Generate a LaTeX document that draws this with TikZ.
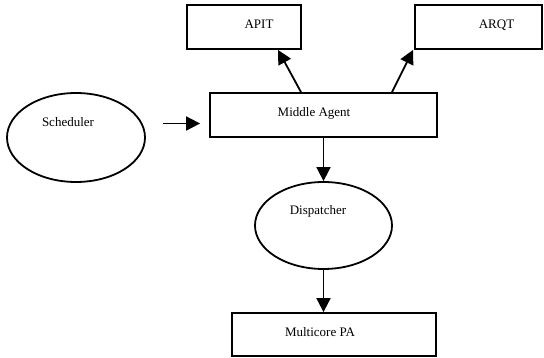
\documentclass[tikz,border=0pt]{standalone}
\usepackage{fontspec}
\setmainfont{Liberation Serif}
\usetikzlibrary{arrows.meta,positioning,shapes.geometric}

\begin{document}
\begin{tikzpicture}[x=1pt,y=-1pt,
box/.style={draw,line width=1.8pt,inner sep=0pt},
oval/.style={draw,ellipse,line width=1.8pt,inner sep=0pt},
txt/.style={font=\fontsize{13}{15}\selectfont,text height=9pt,text depth=0pt},
arr/.style={-{Triangle[length=14pt,width=14pt]},line width=1.8pt}]
\useasboundingbox (0,0) rectangle (544,358);
\node[box,minimum width=114pt,minimum height=44pt,label={[txt,xshift=15pt,yshift=3pt]center:APIT}] (apit) at (244,27) {};
\node[box,minimum width=127pt,minimum height=44pt,label={[txt,xshift=18pt,yshift=3pt]center:ARQT}] (arqt) at (478.5,27) {};
\node[box,minimum width=227pt,minimum height=44pt,label={[txt,xshift=-9.5pt,yshift=3pt]center:Middle Agent}] (middle) at (323.5,115) {};
\node[oval,minimum width=138pt,minimum height=89pt,label={[txt,xshift=-8pt,yshift=15.5pt]center:Scheduler}] (sched) at (76,137.5) {};
\node[oval,minimum width=137pt,minimum height=87pt,label={[txt,xshift=-5.5pt,yshift=15.5pt]center:Dispatcher}] (disp) at (323.5,225.5) {};
\node[box,minimum width=204pt,minimum height=43pt,label={[txt,xshift=-14pt,yshift=2.5pt]center:Multicore PA}] (multi) at (334,334.5) {};
\draw[arr] ([xshift=-22.5pt]middle.north) -- ([xshift=34pt]apit.south);
\draw[arr] ([xshift=68.5pt]middle.north) -- ([xshift=-1pt]arqt.south west);
\draw[arr] ([xshift=17pt,yshift=14pt]sched.east) -- ([xshift=-9pt,yshift=-8.5pt]middle.west);
\draw[arr] (middle.south) -- (disp.north);
\draw[arr] (disp.south) -- (disp.south |- multi.north);
\end{tikzpicture}
\end{document}
